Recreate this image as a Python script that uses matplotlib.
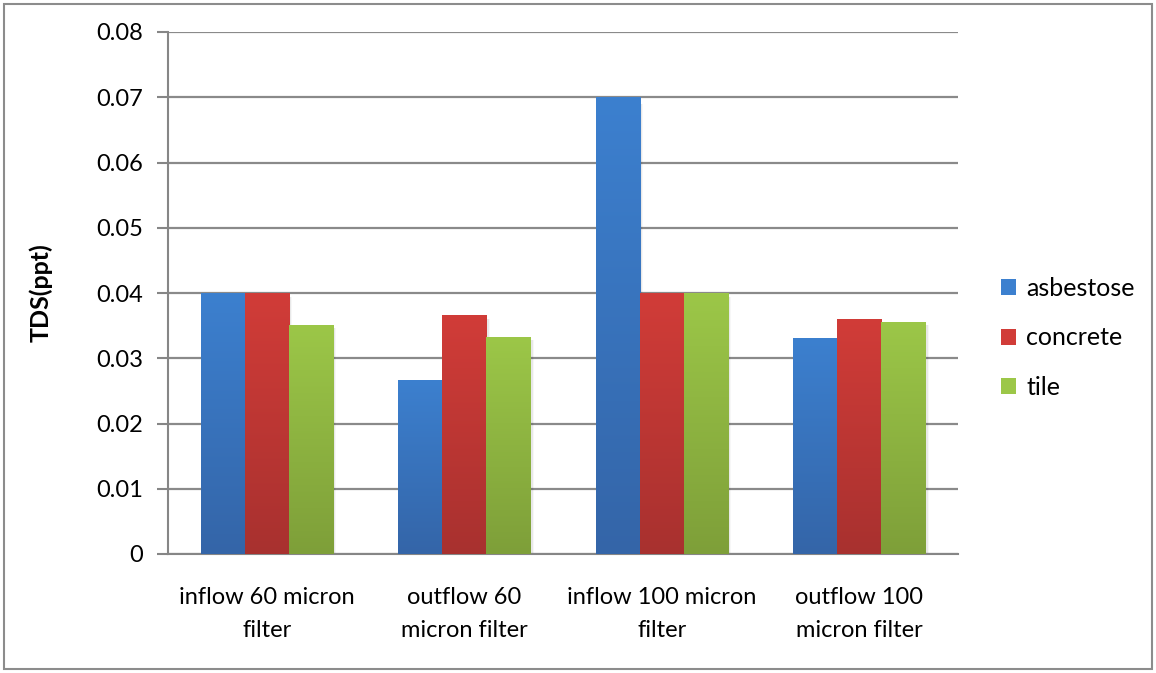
import numpy as np
import matplotlib
matplotlib.use("Agg")
import matplotlib.pyplot as plt
from matplotlib.patches import Rectangle
from matplotlib.colors import LinearSegmentedColormap

categories = ["inflow 60 micron\nfilter", "outflow 60\nmicron filter",
              "inflow 100 micron\nfilter", "outflow 100\nmicron filter"]
series_names = ["asbestose", "concrete", "tile"]
asbestose = [0.040, 0.0267, 0.070, 0.0331]
concrete = [0.040, 0.0366, 0.040, 0.0360]
tile = [0.0351, 0.0333, 0.040, 0.0356]
yticks = [0, 0.01, 0.02, 0.03, 0.04, 0.05, 0.06, 0.07, 0.08]

# (top colour, bottom colour) for each series
grad_colors = [("#3C80CF", "#3465A8"), ("#D13C38", "#A8312F"), ("#9CC748", "#7E9F39")]

plt.rcParams['font.family'] = ['Lato', 'DejaVu Sans']

W, H = 1156, 673
fig = plt.figure(figsize=(W / 100, H / 100), dpi=100)
fig.patches.append(Rectangle((4 / W, 4 / H), 1 - 8 / W, 1 - 8 / H, transform=fig.transFigure,
                             fill=False, edgecolor="#8c8c8c", linewidth=1.5))

ax = fig.add_axes([168 / W, (H - 554) / H, (958 - 168) / W, (554 - 32) / H])

bw = 0.223
x = np.arange(len(categories))
data = [asbestose, concrete, tile]
grad = np.linspace(1, 0, 256).reshape(-1, 1)
for i, (vals, (ctop, cbot)) in enumerate(zip(data, grad_colors)):
    xs = x + (i - 1) * bw
    bars = ax.bar(xs, vals, width=bw, color=ctop, label=series_names[i], zorder=3,
                  linewidth=0)
    cmap = LinearSegmentedColormap.from_list(series_names[i], [cbot, ctop])
    for b in bars:
        bx, by = b.get_x(), b.get_y()
        bwid, bh = b.get_width(), b.get_height()
        # soft shadow to the right
        for k, a in enumerate([0.10, 0.06, 0.03]):
            ax.add_patch(Rectangle((bx + bwid, by), 0.006 * (k + 1), bh * 0.985,
                                   facecolor="black", alpha=a, linewidth=0, zorder=2))
        im = ax.imshow(grad, cmap=cmap, aspect="auto", extent=[bx, bx + bwid, by, by + bh],
                       zorder=3.5, vmin=0, vmax=1)
        im.set_clip_path(b)
ax.set_xlim(-0.5, 3.5)
ax.set_ylim(0, 0.08)

ax.set_yticks(yticks)
ax.set_yticklabels(["0" if v == 0 else f"{v:.2f}" for v in yticks], fontsize=17)
ax.set_xticks(x)
ax.set_xticklabels(categories, fontsize=17, linespacing=1.7)
ax.tick_params(axis="x", length=0, pad=24)
ax.tick_params(axis="y", length=8, width=1.5, color="#868686", pad=10)
ax.grid(axis="y", color="#8a8a8a", linewidth=1.6, zorder=1)
for s in ["top", "right"]:
    ax.spines[s].set_visible(False)
ax.spines["left"].set_color("#868686")
ax.spines["left"].set_linewidth(1.5)
ax.spines["bottom"].set_color("#868686")
ax.spines["bottom"].set_linewidth(1.5)
ax.set_axisbelow(True)

ax.set_ylabel("TDS(ppt)", fontsize=18, fontweight="bold", labelpad=31)

leg = ax.legend(loc="center left", bbox_to_anchor=(1.026, 0.414), frameon=False,
                fontsize=18, handlelength=0.6, handleheight=0.6, handletextpad=0.4,
                labelspacing=1.05)
for h, (ctop, cbot) in zip(leg.legend_handles, grad_colors):
    h.set_color(ctop)

fig.savefig("out.png", dpi=100)
